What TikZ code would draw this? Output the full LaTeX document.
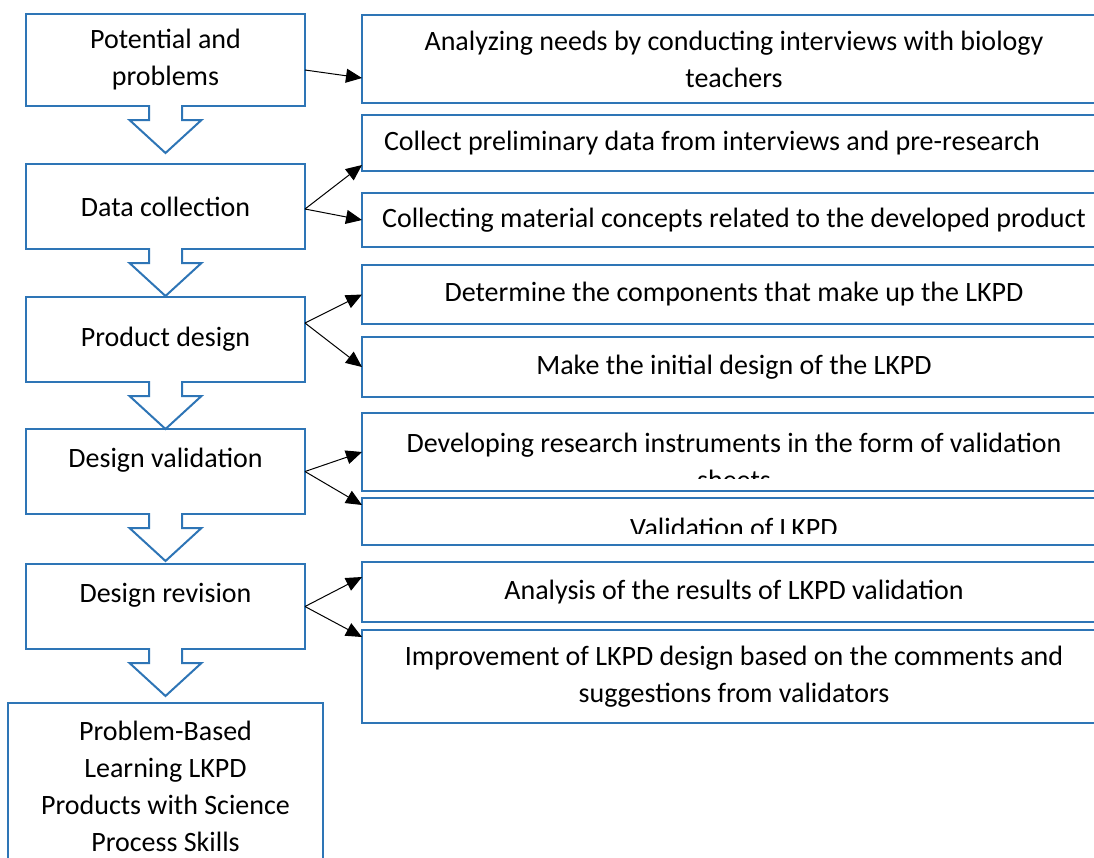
\documentclass[tikz,border=0pt]{standalone}
\usepackage{fontspec}
\setmainfont{Carlito}
\usepackage{tikz}
\usetikzlibrary{arrows.meta,positioning}
\definecolor{boxblue}{HTML}{2E75B6}

\begin{document}
\begin{tikzpicture}[
    x=0.5pt,y=-0.5pt,
    font=\fontsize{14pt}{18.5pt}\selectfont,
    box/.style={draw=boxblue,line width=1pt,fill=white,align=center,inner sep=0pt,outer sep=0pt},
    stage/.style={box,minimum width=139.5pt,minimum height=42.5pt},
    task/.style={box,minimum width=372pt},
    arrow/.style={-{Triangle[length=8pt,width=7pt]},line width=0.5pt},
    hollow/.pic={
      \path[fill=white,draw=boxblue,line width=1pt,line join=miter]
        (-16.5,-1) -- (-16.5,14) -- (-36,14) -- (0,47) -- (36,14) -- (16.5,14) -- (16.5,-1);
    }
  ]
    \useasboundingbox (0,0) rectangle (1094,858);

    % stages on the left
    \node[stage,minimum height=46pt,anchor=north west] (pot) at (26,14) {Potential and\\problems};
    \node[stage,below=29pt of pot] (coll) {Data collection};
    \node[stage,below=24pt of coll] (design) {Product design};
    \node[stage,below=23.5pt of design,text depth=13.5pt] (valid) {Design validation};
    \node[stage,below=25pt of valid,text depth=13.5pt] (revise) {Design revision};
    \node[box,minimum width=157.5pt,minimum height=83pt,below=27pt of revise] (prod) {Problem-Based\\Learning LKPD\\Products with Science\\Process Skills};

    \pic at (pot.south) {hollow};
    \pic at (coll.south) {hollow};
    \pic at (design.south) {hollow};
    \pic at (valid.south) {hollow};
    \pic at (revise.south) {hollow};

    % activities on the right
    \node[task,minimum height=44pt,anchor=north west] (needs) at (362,15) {Analyzing needs by conducting interviews with biology\\teachers};
    \node[task,minimum height=28pt,below=6pt of needs] (prelim) {\makebox[350pt][l]{Collect preliminary data from interviews and pre-research}};
    \node[task,minimum height=27pt,below=11pt of prelim] (concept) {Collecting material concepts related to the developed product};
    \node[task,minimum height=29.5pt,below=9pt of concept] (comp) {Determine the components that make up the LKPD};
    \node[task,minimum height=30pt,below=6.5pt of comp] (init) {Make the initial design of the LKPD};
    \node[task,minimum height=39pt,below=8pt of init] (instr) {};
    \node[task,minimum height=23.5pt,below=3.5pt of instr] (vlkpd) {};
    \node[task,minimum height=30pt,below=8.5pt of vlkpd] (analysis) {Analysis of the results of LKPD validation};
    \node[task,minimum height=46.5pt,below=4pt of analysis] (improve) {Improvement of LKPD design based on the comments and\\suggestions from validators};

    \begin{scope}
      \clip (instr.north west) rectangle ([yshift=6.5pt]instr.south east);
      \node[align=center,yshift=-4.5pt] (instrtext) at (instr) {Developing research instruments in the form of validation\\sheets};
    \end{scope}
    \begin{scope}
      \clip (vlkpd.north west) rectangle ([yshift=6pt]vlkpd.south east);
      \node[yshift=-3pt] (vlkpdtext) at (vlkpd) {Validation of LKPD};
    \end{scope}

    \draw[arrow] ([yshift=-5pt]pot.east) -- ([yshift=-9.5pt]needs.west);
    \draw[arrow] ([yshift=-1.25pt]coll.east) -- ([yshift=3pt]prelim.south west);
    \draw[arrow] ([yshift=-1.25pt]coll.east) -- (concept.west);
    \draw[arrow] ([yshift=8.25pt]design.east) -- (comp.west);
    \draw[arrow] ([yshift=8.25pt]design.east) -- (init.west);
    \draw[arrow] (valid.east) -- (instr.west);
    \draw[arrow] (valid.east) -- ([yshift=-3.5pt]vlkpd.north west);
    \draw[arrow] (revise.east) -- ([yshift=7.5pt]analysis.west);
    \draw[arrow] (revise.east) -- ([yshift=-3.5pt]improve.north west);
\end{tikzpicture}
\end{document}
